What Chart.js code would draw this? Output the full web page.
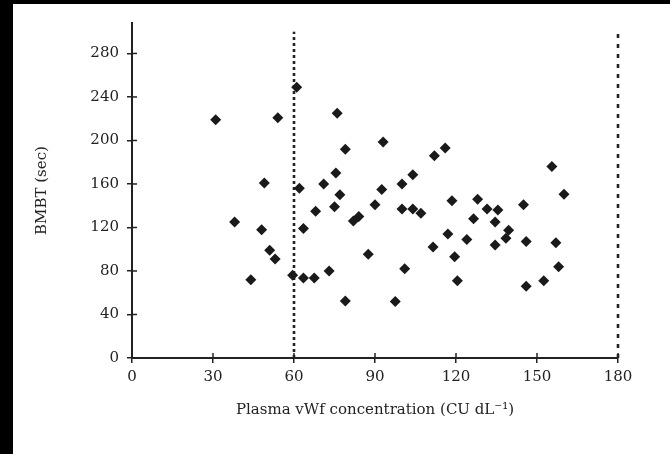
<!DOCTYPE html>
<html><head><meta charset="utf-8">
<script src="https://cdn.jsdelivr.net/npm/chart.js@4/dist/chart.umd.min.js"></script>
<style>
html,body{margin:0;padding:0;background:#000;width:670px;height:454px;overflow:hidden}
#wrap{position:absolute;left:13px;top:4px;width:657px;height:450px;background:#fff}
</style></head><body><div id="wrap"><canvas id="c" width="657" height="450"></canvas></div>
<script>
const concentration = [31, 38, 44, 48, 49, 51, 53, 54, 59.5, 61, 62, 63.5, 63.5, 67.5, 68, 71, 73, 75, 75.5, 76, 77, 79, 79, 82, 84, 87.5, 90, 92.5, 93, 97.5, 100, 100, 101, 104, 104, 107, 111.5, 112, 116, 117, 118.5, 119.5, 120.5, 124, 126.5, 128, 131.5, 135.5, 134.5, 134.5, 138.5, 139.5, 145, 146, 146, 152.5, 155.5, 157, 158, 160];
const bmbt = [219, 125, 72, 118, 161, 99, 91, 221, 76, 249, 156, 119, 73.5, 73.5, 135, 160, 80, 139, 170, 225, 150, 52.5, 192, 126, 130, 95.5, 141, 155, 198.5, 52, 160, 137, 82, 168.5, 137, 133, 102, 186, 193, 114, 144.5, 93, 71, 109, 128, 146, 137, 136, 125, 104, 110, 117.5, 141, 107, 66, 71, 176, 106, 84, 150.5];
const xTicks = [0, 30, 60, 90, 120, 150, 180];
const yTicks = [0, 40, 80, 120, 160, 200, 240, 280];
const refLines = [60, 180];
const refDashes = [[3, 3], [4, 6]];
const xTitle = 'Plasma vWf concentration (CU dL\u207B\u00B9)';
const yTitle = 'BMBT (sec)';

const ink = '#222';
const fontFam = '"DejaVu Serif", "Liberation Serif", serif';

const points = concentration.map((x, i) => ({x: x, y: bmbt[i]}));
const refSets = refLines.map((v, i) => ({
  type: 'line',
  data: [{x: v, y: 0}, {x: v, y: 300}],
  borderColor: '#222',
  borderWidth: 2.6,
  borderDash: refDashes[i],
  pointRadius: 0,
  fill: false,
  clip: false,
  order: 2
}));

const innerTicks = {
  id: 'innerTicks',
  afterDraw(chart) {
    const ctx = chart.ctx;
    const xs = chart.scales.x, ys = chart.scales.y;
    const a = chart.chartArea;
    ctx.save();
    ctx.strokeStyle = ink;
    ctx.lineWidth = 1.5;
    xTicks.forEach(v => {
      if (v === 0) return;
      const px = xs.getPixelForValue(v);
      ctx.beginPath(); ctx.moveTo(px, a.bottom); ctx.lineTo(px, a.bottom - 5); ctx.stroke();
    });
    yTicks.forEach(v => {
      if (v === 0) return;
      const py = ys.getPixelForValue(v);
      ctx.beginPath(); ctx.moveTo(a.left, py); ctx.lineTo(a.left + 5, py); ctx.stroke();
    });
    ctx.restore();
  }
};

new Chart(document.getElementById('c'), {
  type: 'scatter',
  data: {
    datasets: [{
      data: points,
      pointStyle: 'rectRot',
      pointRadius: 5.5,
      backgroundColor: '#1a1a1a',
      borderWidth: 0,
      order: 1
    }].concat(refSets)
  },
  options: {
    responsive: false,
    animation: false,
    layout: {padding: {top: 19, right: 52, left: 0, bottom: 0}},
    plugins: {legend: {display: false}, tooltip: {enabled: false}},
    scales: {
      x: {
        type: 'linear', min: 0, max: 180,
        afterBuildTicks: s => { s.ticks = xTicks.map(v => ({value: v})); },
        afterFit: s => { s.height = 96; },
        grid: {drawOnChartArea: false, tickLength: 5, color: ink, lineWidth: 1.5},
        border: {color: ink, width: 2},
        ticks: {font: {family: fontFam, size: 15}, color: ink, padding: 5, maxRotation: 0},
        title: {display: true, text: xTitle, font: {family: fontFam, size: 15}, color: ink, padding: {top: 0, bottom: 35}}
      },
      y: {
        type: 'linear', min: 0, max: 308,
        afterBuildTicks: s => { s.ticks = yTicks.map(v => ({value: v})); },
        afterFit: s => { s.width = 119; },
        grid: {drawOnChartArea: false, tickLength: 5, color: ink, lineWidth: 1.5},
        border: {color: ink, width: 2},
        ticks: {font: {family: fontFam, size: 15}, color: ink, padding: 8},
        title: {display: true, text: yTitle, font: {family: fontFam, size: 15}, color: ink, padding: {top: 20, bottom: 0}}
      }
    }
  },
  plugins: [innerTicks]
});
</script></body></html>
